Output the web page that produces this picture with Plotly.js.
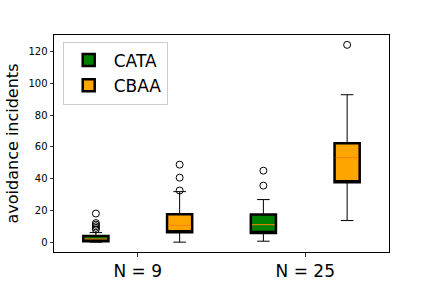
<!DOCTYPE html>
<html><head><meta charset="utf-8">
<script src="https://cdn.plot.ly/plotly-3.0.1.min.js"></script>
<style>html,body{margin:0;padding:0;background:#fff}#chart{width:432px;height:288px}</style>
</head><body><div id="chart"></div>
<script>
const groups = ['N = 9', 'N = 25'];
const series = ['CATA', 'CBAA'];
const colors = ['green', 'orange'];
const cataQ1 = [0.6, 5.7], cataMed = [2, 11], cataQ3 = [3.8, 17.4], cataLo = [0, 0.6], cataHi = [6, 26.8];
const cataOut = [[8, 9, 10, 11, 12, 18], [35.6, 45]];
const cbaaQ1 = [6.3, 37.7], cbaaMed = [10.5, 53.2], cbaaQ3 = [17.6, 62.2], cbaaLo = [0, 13.6], cbaaHi = [31.8, 92.8];
const cbaaOut = [[32.5, 40.6, 48.8], [124.2]];

const stats = [
  {q1: cataQ1, med: cataMed, q3: cataQ3, lo: cataLo, hi: cataHi, out: cataOut},
  {q1: cbaaQ1, med: cbaaMed, q3: cbaaQ3, lo: cbaaLo, hi: cbaaHi, out: cbaaOut}
];
const W = 0.3;
const traces = [];
const medTraces = [];
const outTraces = [];
stats.forEach((s, si) => {
  const pos = groups.map((g, gi) => 1 + gi * 2 + si);
  traces.push({type: 'box', x: pos, q1: s.q1, median: s.q1, q3: s.q3,
    lowerfence: s.lo, upperfence: s.hi, width: W, whiskerwidth: 0.5,
    fillcolor: colors[si], line: {color: 'black', width: 1}, boxpoints: false,
    showlegend: false, hoverinfo: 'skip'});
  traces.push({type: 'box', x: pos, q1: s.q1, median: s.q1, q3: s.q3,
    lowerfence: s.q1, upperfence: s.q3, width: W, whiskerwidth: 0,
    fillcolor: colors[si], line: {color: 'black', width: 2.5}, boxpoints: false,
    name: series[si], showlegend: true});
  pos.forEach((p, i) => {
    medTraces.push({type: 'scatter', mode: 'lines', x: [p - W/2 + 0.014, p + W/2 - 0.014],
      y: [s.med[i], s.med[i]], line: {color: '#ff7f0e', width: 1}, showlegend: false, hoverinfo: 'skip'});
    outTraces.push({type: 'scatter', mode: 'markers', x: s.out[i].map(() => p), y: s.out[i],
      marker: {symbol: 'circle-open', size: 7, color: 'black', line: {width: 1}},
      showlegend: false, hoverinfo: 'skip'});
  });
});

const layout = {
  width: 432, height: 288,
  margin: {l: 54, r: 43, t: 35, b: 36},
  paper_bgcolor: 'white', plot_bgcolor: 'white',
  font: {family: 'DejaVu Sans', color: 'black'},
  boxmode: 'overlay',
  xaxis: {range: [0.5, 4.5], tickmode: 'array', tickvals: [1.5, 3.5], ticktext: groups,
    tickfont: {size: 17}, ticks: 'outside', ticklen: 3.5, tickwidth: 0.8, tickcolor: 'black',
    showline: true, linecolor: 'black', linewidth: 1, mirror: true, showgrid: false, zeroline: false},
  yaxis: {range: [-6.2, 130.4], tickvals: [0, 20, 40, 60, 80, 100, 120],
    tickfont: {size: 10}, ticks: 'outside', ticklen: 3.5, tickwidth: 0.8, tickcolor: 'black',
    showline: true, linecolor: 'black', linewidth: 1, mirror: true, showgrid: false, zeroline: false,
    title: {text: 'avoidance incidents', font: {size: 16}, standoff: 5}},
  legend: {x: 0.026, y: 0.97, xanchor: 'left', yanchor: 'top', font: {size: 17},
    bordercolor: '#cccccc', borderwidth: 1, bgcolor: 'rgba(255,255,255,0.8)', traceorder: 'normal',
    itemwidth: 40, tracegroupgap: 0},
  showlegend: true
};
Plotly.newPlot('chart', traces.concat(medTraces, outTraces), layout, {staticPlot: true});
</script></body></html>
